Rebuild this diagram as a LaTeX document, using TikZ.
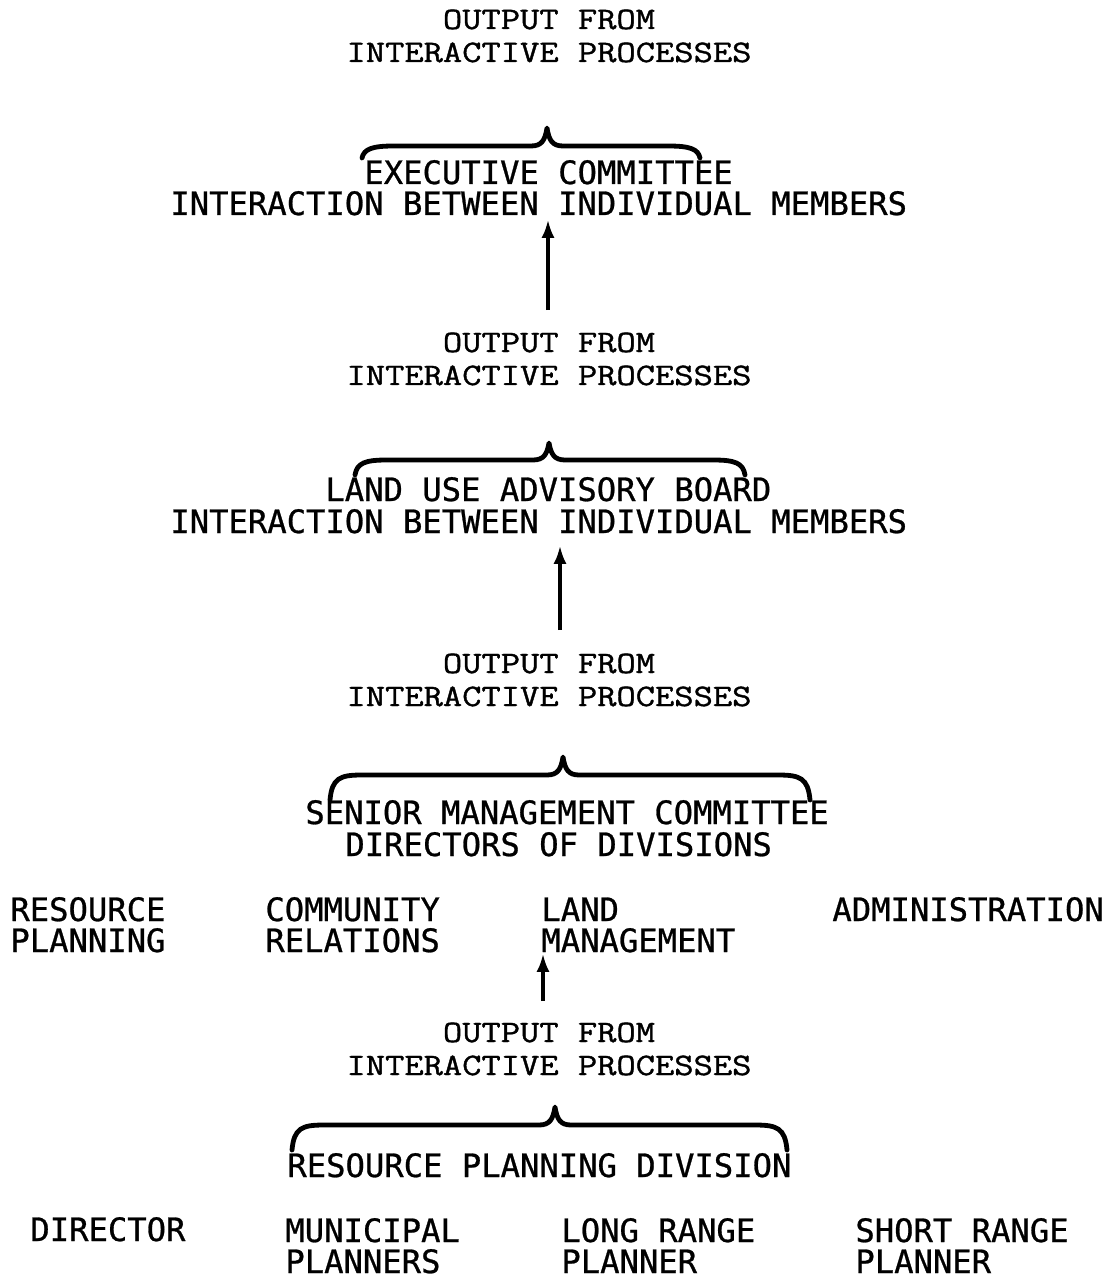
\documentclass[tikz,border=0pt]{standalone}
\usepackage{fontspec}
\usetikzlibrary{arrows.meta}
\newfontfamily\typew[FakeStretch=1.2,FakeBold=1.2]{Latin Modern Mono}
\newfontfamily\gothic[FakeBold=0.8]{DejaVu Sans Mono}

% a curly brace opening downwards: left x, right x, tip x, tip y, bar y, end y
\newcommand\drawbrace[6]{%
  \draw[bracestyle]
    (#1,#6) .. controls (#1+2,#5+3) and (#1+10,#5) .. (#1+32,#5)
    -- (#3-16,#5) .. controls (#3-5,#5) and (#3-2,#5-6) .. (#3,#4)
    .. controls (#3+2,#5-6) and (#3+5,#5) .. (#3+16,#5)
    -- (#2-32,#5) .. controls (#2-10,#5) and (#2-2,#5+3) .. (#2,#6);}

\begin{document}
\begin{tikzpicture}[x=0.5pt,y=-0.5pt,
  serif/.style={inner sep=0pt,font=\typew\fontsize{15.6}{16.5}\selectfont},
  output/.style={serif,align=center,anchor=base},
  label/.style={inner sep=0pt,anchor=base west,align=left,
    font=\gothic\fontsize{16.1}{15.5}\selectfont},
  bracestyle/.style={line width=2.4pt,line cap=round,line join=round},
  uparrow/.style={line width=1.6pt,-{Latex[length=9pt,width=6.5pt]}}]
\useasboundingbox (0,0) rectangle (1109,1278);

% top level: executive committee
\node[output] (out1) at (549,62) {OUTPUT FROM\\INTERACTIVE PROCESSES};
\drawbrace{362}{700}{547}{128}{146}{158}
\node[label] (exec) at (364,184) {EXECUTIVE COMMITTEE};
\node[label] (execsub) at (170,215) {INTERACTION BETWEEN INDIVIDUAL MEMBERS};

% land use advisory board
\node[output] (out2) at (549,385) {OUTPUT FROM\\INTERACTIVE PROCESSES};
\drawbrace{355}{745}{549}{443}{460}{475}
\node[label] (luab) at (325,501) {LAND USE ADVISORY BOARD};
\node[label] (luabsub) at (170,533) {INTERACTION BETWEEN INDIVIDUAL MEMBERS};

% senior management committee
\node[output] (out3) at (549,706) {OUTPUT FROM\\INTERACTIVE PROCESSES};
\drawbrace{330}{810}{563}{757}{775}{800}
\node[label] (smc) at (305,824) {SENIOR MANAGEMENT COMMITTEE};
\node[label] (smcsub) at (345,856) {DIRECTORS OF DIVISIONS};

\node[label] (rp) at (10,952) {RESOURCE\\PLANNING};
\node[label] (cr) at (265,952) {COMMUNITY\\RELATIONS};
\node[label] (lm) at (541,952) {LAND\\MANAGEMENT};
\node[label] (adm) at (832,921) {ADMINISTRATION};

% resource planning division
\node[output] (out4) at (549,1075) {OUTPUT FROM\\INTERACTIVE PROCESSES};
\drawbrace{292}{787}{555}{1107}{1125}{1150}
\node[label] (rpd) at (287,1177) {RESOURCE PLANNING DIVISION};

\node[label] (dir) at (30,1241) {DIRECTOR};
\node[label] (mun) at (285,1273) {MUNICIPAL\\PLANNERS};
\node[label] (lrp) at (561,1273) {LONG RANGE\\PLANNER};
\node[label] (srp) at (855,1273) {SHORT RANGE\\PLANNER};

% upward flow between levels
\draw[uparrow] ([xshift=-0.5pt,yshift=11pt]out2.north)
  -- ([xshift=-0.5pt,yshift=-2pt]out2.north |- execsub.south);
\draw[uparrow] ([xshift=5.5pt,yshift=11.5pt]out3.north)
  -- ([xshift=5.5pt,yshift=-6pt]out3.north |- luabsub.south);
\draw[uparrow] ([xshift=-3pt,yshift=10.5pt]out4.north)
  -- ([xshift=-3pt,yshift=-0.5pt]out4.north |- lm.south);
\end{tikzpicture}
\end{document}
